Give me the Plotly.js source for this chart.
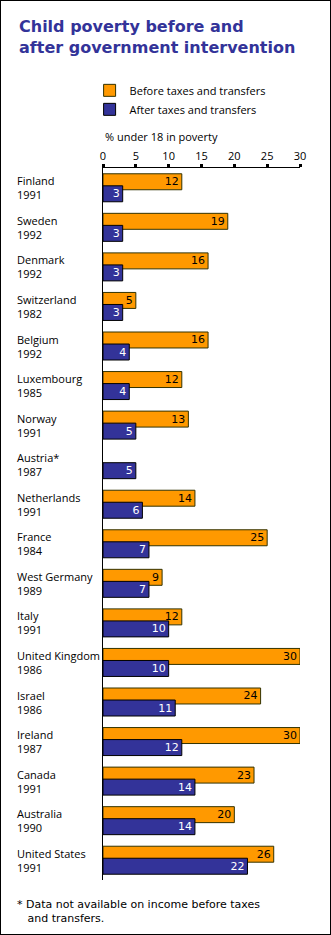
<!DOCTYPE html>
<html>
<head>
<meta charset="utf-8">
<script src="https://cdn.plot.ly/plotly-3.0.1.min.js"></script>
<style>
  html, body { margin: 0; padding: 0; background: #fff; }
  #wrap { position: relative; width: 331px; height: 935px; }
  #chart { width: 331px; height: 935px; }
  #frame { position: absolute; left: 0; top: 0; width: 329px; height: 933px; border: 1px solid #000; pointer-events: none; }
</style>
</head>
<body>
<div id="wrap"><div id="chart"></div><div id="frame"></div></div>
<script>
const countries = ["Finland", "Sweden", "Denmark", "Switzerland", "Belgium", "Luxembourg", "Norway", "Austria*", "Netherlands", "France", "West Germany", "Italy", "United Kingdom", "Israel", "Ireland", "Canada", "Australia", "United States"];
const years = ["1991", "1992", "1992", "1982", "1992", "1985", "1991", "1987", "1991", "1984", "1989", "1991", "1986", "1986", "1987", "1991", "1990", "1991"];
const beforeTaxes = [12, 19, 16, 5, 16, 12, 13, null, 14, 25, 9, 12, 30, 24, 30, 23, 20, 26];
const afterTaxes = [3, 3, 3, 3, 4, 4, 5, 5, 6, 7, 7, 10, 10, 11, 12, 14, 14, 22];
const xTicks = [0, 5, 10, 15, 20, 25, 30];

const FONT = "DejaVu Sans, sans-serif";
const LFONT = "Open Sans, sans-serif";
const cats = countries.map((c, i) => c + " " + years[i]);

const traceBefore = {
  type: "bar", orientation: "h", name: "Before taxes and transfers",
  y: cats, x: beforeTaxes,
  offset: -0.354, width: 0.404,
  marker: { color: "#ff9900", line: { color: "#333300", width: 1 } },
  text: beforeTaxes.map(v => v == null ? "" : String(v)),
  textposition: "inside", insidetextanchor: "end", textangle: 0,
  textfont: { color: "#000", size: 11, family: FONT },
  hoverinfo: "skip", cliponaxis: false
};
const traceAfter = {
  type: "bar", orientation: "h", name: "After taxes and transfers",
  y: cats, x: afterTaxes,
  offset: -0.05, width: 0.404,
  marker: { color: "#333399", line: { color: "#000", width: 1 } },
  text: afterTaxes.map(String),
  textposition: "inside", insidetextanchor: "end", textangle: 0,
  textfont: { color: "#fff", size: 11, family: FONT },
  hoverinfo: "skip", cliponaxis: false
};

const labelAnn = cats.map((c, i) => ({
  xref: "paper", yref: "y", x: -88 / 197, y: c,
  xanchor: "left", yanchor: "middle", align: "left",
  text: countries[i] + "<br>" + years[i],
  showarrow: false, font: { family: LFONT, size: 11, color: "#000" }
}));

const layout = {
  width: 331, height: 935,
  margin: { l: 103, r: 31, t: 168, b: 55 },
  paper_bgcolor: "#fff", plot_bgcolor: "#fff",
  barmode: "overlay",
  showlegend: true,
  legend: {
    x: -0.068, y: 1.062, xanchor: "left", yanchor: "bottom",
    font: { family: LFONT, size: 11, color: "#000" },
    tracegroupgap: 0, itemwidth: 30, bgcolor: "rgba(0,0,0,0)"
  },
  uniformtext: { mode: "show", minsize: 11 },
  xaxis: {
    side: "top", range: [0, 30], tickvals: xTicks, ticktext: xTicks.map(String),
    showgrid: false, zeroline: false, showline: true, linecolor: "#000", linewidth: 1,
    ticks: "outside", ticklen: 3, tickwidth: 3, tickcolor: "#000",
    tickfont: { family: LFONT, size: 11, color: "#000" }, fixedrange: true
  },
  yaxis: {
    type: "category", categoryorder: "array", categoryarray: cats,
    range: [17.5, -0.5], showticklabels: false, ticks: "",
    showgrid: false, zeroline: false, showline: true, linecolor: "#000", linewidth: 1,
    fixedrange: true
  },
  annotations: labelAnn.concat([
    { xref: "paper", yref: "paper", x: -86 / 197, y: (880 - 15) / 712, xanchor: "left", yanchor: "top", align: "left",
      text: "<b>Child poverty before and<br>after government intervention</b>", showarrow: false,
      font: { family: FONT, size: 16, color: "#333399" } },
    { xref: "x", yref: "paper", x: 0, y: 1.031, xanchor: "left", yanchor: "bottom",
      text: "% under 18 in poverty", showarrow: false,
      font: { family: LFONT, size: 11, color: "#000" } },
    { xref: "paper", yref: "paper", x: -88 / 197, y: -0.022, xanchor: "left", yanchor: "top", align: "left",
      text: "* Data not available on income before taxes<br>   and transfers.", showarrow: false,
      font: { family: FONT, size: 11, color: "#000" } }
  ])
};

Plotly.newPlot("chart", [traceBefore, traceAfter], layout, { staticPlot: true });
</script>
</body>
</html>
